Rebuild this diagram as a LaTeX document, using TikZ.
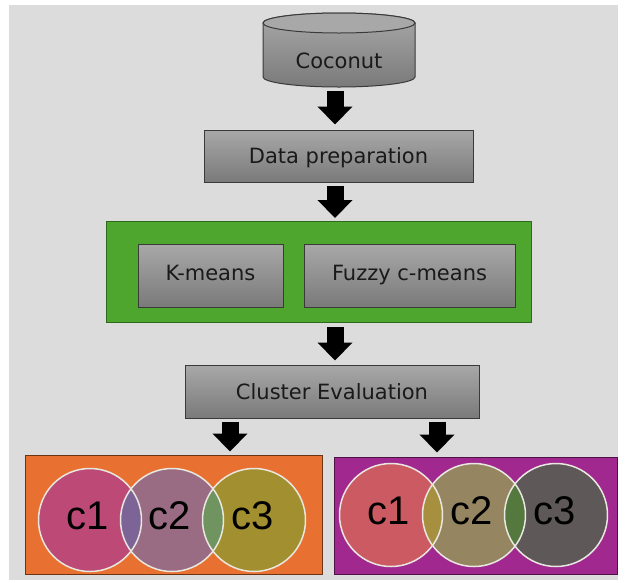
\documentclass[tikz,border=0pt]{standalone}
\usepackage{fontspec}
\setmainfont{DejaVu Sans}
\newfontfamily\arialfont{Liberation Sans}
\usetikzlibrary{arrows.meta,calc}
\definecolor{bggray}{HTML}{DCDCDC}
\definecolor{boxtop}{HTML}{A8A8A8}
\definecolor{boxbot}{HTML}{7A7A7A}
\definecolor{boxline}{HTML}{3A3A3A}
\definecolor{greenfill}{HTML}{4EA62E}
\definecolor{greenline}{HTML}{2F6A1C}
\definecolor{orangefill}{HTML}{E87132}
\definecolor{orangeline}{HTML}{6B3414}
\definecolor{purplefill}{HTML}{A0288E}
\definecolor{purpleline}{HTML}{4D1445}
\definecolor{oa}{HTML}{BD4A76}
\definecolor{ob}{HTML}{9A6C83}
\definecolor{oc}{HTML}{A28F30}
\definecolor{oab}{HTML}{7C6496}
\definecolor{obc}{HTML}{6F9460}
\definecolor{pa}{HTML}{CC5A62}
\definecolor{pb}{HTML}{958661}
\definecolor{pc}{HTML}{5E5858}
\definecolor{pab}{HTML}{A6903F}
\definecolor{pbc}{HTML}{55783F}
\definecolor{ringcol}{HTML}{E8E8E0}
\definecolor{txt}{HTML}{1A1A1A}
\tikzset{
  graybox/.style={draw=boxline, line width=1pt, top color=boxtop, bottom color=boxbot,
    inner sep=0pt, text height=15pt, text depth=0pt,
    font=\fontsize{21}{24}\selectfont, text=txt},
  blockarrow/.style={line width=17pt, -{Triangle[width=34pt,length=18pt]}, black},
  ring/.style={draw=ringcol, line width=1.5pt},
  clabel/.style={font=\arialfont\fontsize{40}{42}\selectfont, text=black, inner sep=0pt}
}
\begin{document}
\begin{tikzpicture}[x=1pt,y=-1pt]
\useasboundingbox (0,0) rectangle (631,582);
\fill[bggray] (9,5) rectangle (618,580);

% cylinder
\node[inner sep=0pt, minimum width=152pt, minimum height=74pt] (coco) at (339,50) {};
\shade[top color=boxtop, bottom color=boxbot, draw=boxline, line width=1pt]
  (263,23) -- (263,77) arc[start angle=180, end angle=360, x radius=76pt, y radius=10pt]
  -- (415,23) arc[start angle=0, end angle=180, x radius=76pt, y radius=10pt] -- cycle;
\fill[fill=boxtop, draw=boxline, line width=1pt] (339,23) ellipse[x radius=76pt, y radius=10pt];
\node[font=\fontsize{21}{24}\selectfont, text=txt, inner sep=0pt, text height=15pt, text depth=0pt] (cocotext) at (339,60.5) {Coconut};

\coordinate (axis) at (335,0);

\node[graybox, minimum width=269pt, minimum height=52pt] (dp) at (338.5,156) {Data preparation};
\node[draw=greenline, line width=1pt, fill=greenfill, minimum width=425pt, minimum height=101pt, inner sep=0pt] (green) at (318.5,272) {};
\node[graybox, text depth=6pt, minimum width=145pt, minimum height=63pt] (km) at (210.5,275.5) {K-means};
\node[graybox, text depth=6pt, minimum width=211pt, minimum height=63pt] (fz) at (409.5,275.5) {Fuzzy c-means};
\node[graybox, minimum width=294pt, minimum height=53pt] (ce) at (332,391.5) {Cluster Evaluation};

\node[draw=orangeline, line width=1pt, fill=orangefill, minimum width=297pt, minimum height=119pt, inner sep=0pt] (orange) at (173.5,514.5) {};
\node[draw=purpleline, line width=1pt, fill=purplefill, minimum width=283pt, minimum height=117pt, inner sep=0pt] (purple) at (475.5,515.5) {};

% arrows
\draw[blockarrow, shorten <=4pt, shorten >=5pt] (coco.south -| axis) -- (dp.north -| axis);
\draw[blockarrow, shorten <=3pt, shorten >=3pt] (dp.south -| axis) -- (green.north -| axis);
\draw[blockarrow, shorten <=4pt, shorten >=4pt] (green.south -| axis) -- (ce.north -| axis);
\coordinate (la) at (230,0);
\coordinate (ra) at (437,0);
\draw[blockarrow, shorten <=3pt, shorten >=3pt] (ce.south -| la) -- (orange.north -| la);
\draw[blockarrow, shorten <=3pt, shorten >=4pt] (ce.south -| ra) -- (purple.north -| ra);

% orange circles
\def\R{51.5pt}
\fill[oa] (90,520) circle[radius=\R];
\fill[ob] (172,520) circle[radius=\R];
\fill[oc] (254,520) circle[radius=\R];
\begin{scope}\clip (90,520) circle[radius=\R]; \fill[oab] (172,520) circle[radius=\R]; \end{scope}
\begin{scope}\clip (172,520) circle[radius=\R]; \fill[obc] (254,520) circle[radius=\R]; \end{scope}
\draw[ring] (90,520) circle[radius=\R];
\draw[ring] (172,520) circle[radius=\R];
\draw[ring] (254,520) circle[radius=\R];
\node[clabel] (o1) at (88,516) {c1};
\node[clabel] (o2) at (170,516) {c2};
\node[clabel] (o3) at (253,516) {c3};

% purple circles
\fill[pa] (391,515) circle[radius=\R];
\fill[pb] (474,515) circle[radius=\R];
\fill[pc] (556,515) circle[radius=\R];
\begin{scope}\clip (391,515) circle[radius=\R]; \fill[pab] (474,515) circle[radius=\R]; \end{scope}
\begin{scope}\clip (474,515) circle[radius=\R]; \fill[pbc] (556,515) circle[radius=\R]; \end{scope}
\draw[ring] (391,515) circle[radius=\R];
\draw[ring] (474,515) circle[radius=\R];
\draw[ring] (556,515) circle[radius=\R];
\node[clabel] (p1) at (389,511) {c1};
\node[clabel] (p2) at (472,511) {c2};
\node[clabel] (p3) at (555,511) {c3};
\end{tikzpicture}
\end{document}
